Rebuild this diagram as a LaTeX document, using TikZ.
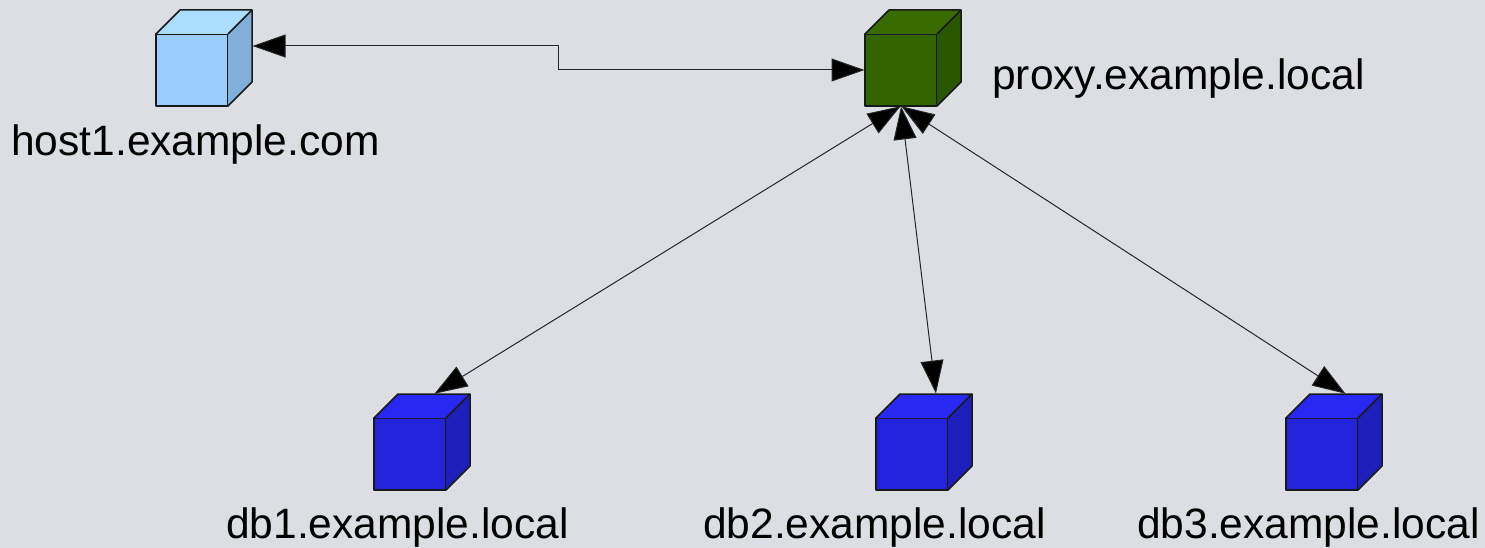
\documentclass[tikz,border=0pt]{standalone}
\usepackage{fontspec}
\setmainfont{Liberation Sans}
\usetikzlibrary{arrows.meta,calc}
\definecolor{bgc}{HTML}{DBDFE3}
\definecolor{hf}{HTML}{99CCFF}\definecolor{ht}{HTML}{AADDFF}\definecolor{hs}{HTML}{82AFDA}
\definecolor{pf}{HTML}{336600}\definecolor{pt}{HTML}{386C00}\definecolor{ps}{HTML}{2B5600}
\definecolor{df}{HTML}{2323DC}\definecolor{dt}{HTML}{2828F2}\definecolor{ds}{HTML}{1E1EBB}
\tikzset{
  front/.style={draw=black!90,line width=1.5pt,minimum size=72pt,inner sep=0pt,outer sep=0pt,line join=round},
  facep/.style={draw=black!90,line width=1.5pt,line join=round},
  lab/.style={font=\fontsize{42.5pt}{46pt}\selectfont,anchor=base,inner sep=0pt,text=black},
  link/.style={draw=black!85,line width=1pt,{Triangle[length=33pt,width=23pt,fill=black]}-{Triangle[length=33pt,width=23pt,fill=black]},shorten <=0.5pt,shorten >=0.5pt},
}
\newcommand{\cubeat}[5]{% name, position, front, top, side
  \node[front,fill=#3] (#1) at (#2) {};
  \fill[#4] (#1.north west) -- ++(24pt,24pt) -- ++(72pt,0) -- (#1.north east) -- cycle;
  \fill[#5] (#1.north east) -- ++(24pt,24pt) -- ++(0,-72pt) -- (#1.south east) -- cycle;
  \path[facep] (#1.north west) -- ++(24pt,24pt) -- ++(72pt,0) -- ++(0,-72pt) -- (#1.south east);
  \path[facep] (#1.north east) -- ++(24pt,24pt);
  \coordinate (#1top) at ($(#1.north)+(24pt,24pt)$);
  \coordinate (#1side) at ($(#1.east)+(24pt,24pt)$);
}
\begin{document}
\begin{tikzpicture}[x=1pt,y=-1pt]
\path[fill=bgc,use as bounding box] (0,0) rectangle (1485,548);
\cubeat{host}{192,70}{hf}{ht}{hs}
\cubeat{proxy}{901,70}{pf}{pt}{ps}
\cubeat{dba}{410,454}{df}{dt}{ds}
\cubeat{dbb}{912,454}{df}{dt}{ds}
\cubeat{dbc}{1322,454}{df}{dt}{ds}
\coordinate (bend) at (558,46);
\draw[link,yshift=-0.5pt] (hostside) -- (bend) -- (bend |- proxy.west) -- (proxy.west);
\draw[link] (proxy.south) -- (dbatop);
\draw[link] (proxy.south) -- (dbbtop);
\draw[link] (proxy.south) -- (dbctop);
\node[lab] (lhost) at (195.5,156) {host1.example.com};
\node[lab] (lproxy) at (1178.5,90) {proxy.example.local};
\node[lab] (lba) at (397.5,538) {db1.example.local};
\node[lab] (lbb) at (874.5,538) {db2.example.local};
\node[lab] (lbc) at (1308.5,538) {db3.example.local};
\end{tikzpicture}
\end{document}
